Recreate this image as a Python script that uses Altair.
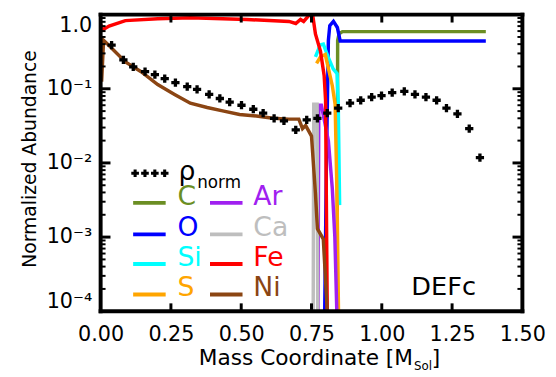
import altair as alt
import pandas as pd

FONT = "DejaVu Sans"

SPECIES = ["C", "O", "Si", "S", "Ar", "Ca", "Fe", "Ni"]
COLORS = ["#6b8e23", "#0000ff", "#00ffff", "#ffa500", "#a020f0", "#bebebe", "#ff0000", "#8b4513"]

C_M = [0.841, 0.843, 0.848, 0.860, 1.370]
C_A = [1e-4, 0.45, 0.55, 0.59, 0.59]
O_M = [0.797, 0.803, 0.810, 0.815, 0.828, 0.842, 0.852, 1.370]
O_A = [1e-4, 0.01, 0.45, 0.71, 0.81, 0.67, 0.44, 0.44]
SI_M = [0.764, 0.781, 0.792, 0.809, 0.827, 0.841, 0.845, 0.850]
SI_A = [0.27, 0.39, 0.40, 0.27, 0.186, 0.16, 0.068, 0.0027]
S_M = [0.768, 0.782, 0.799, 0.824, 0.834, 0.841, 0.846]
S_A = [0.22, 0.27, 0.29, 0.11, 0.062, 0.0032, 1e-4]
AR_M = [0.773, 0.776, 0.785, 0.810, 0.824, 0.833, 0.840]
AR_A = [1e-4, 0.06, 0.06, 0.02, 0.0045, 0.001, 1e-4]
CA_M = [0.756, 0.758, 0.770, 0.772]
CA_A = [1e-4, 0.062, 0.062, 1e-4]
FE_M = [0.0, 0.007, 0.03, 0.088, 0.203, 0.319, 0.52, 0.67, 0.694, 0.711, 0.722,
        0.740, 0.754, 0.764, 0.782, 0.795, 0.800, 0.806]
FE_A = [0.74, 0.62, 0.70, 0.83, 0.88, 0.91, 0.86, 0.81, 0.76, 0.86, 0.81,
        0.97, 1.0, 0.55, 0.32, 0.15, 0.07, 1e-4]
NI_M = [0.0035, 0.0105, 0.028, 0.088, 0.144, 0.203, 0.263, 0.319, 0.379, 0.438,
        0.494, 0.554, 0.613, 0.669, 0.705, 0.718, 0.729, 0.750, 0.764, 0.771,
        0.792, 0.806]
NI_A = [0.125, 0.45, 0.39, 0.23, 0.17, 0.114, 0.084, 0.064, 0.056, 0.050,
        0.045, 0.043, 0.040, 0.039, 0.039, 0.029, 0.032, 0.023, 0.0039, 0.0013,
        0.00094, 1e-4]
RHO_M = [0.039, 0.081, 0.116, 0.158, 0.193, 0.228, 0.266, 0.308, 0.343, 0.386,
         0.424, 0.459, 0.501, 0.543, 0.578, 0.617, 0.652, 0.694, 0.733, 0.771,
         0.806, 0.845, 0.887, 0.925, 0.964, 0.999, 1.037, 1.080, 1.118, 1.157,
         1.195, 1.230, 1.269, 1.311, 1.349]
RHO_A = [0.387, 0.245, 0.198, 0.170, 0.155, 0.137, 0.121, 0.107, 0.098, 0.084,
         0.074, 0.066, 0.060, 0.053, 0.047, 0.040, 0.037, 0.028, 0.038, 0.040,
         0.047, 0.055, 0.064, 0.070, 0.077, 0.081, 0.089, 0.092, 0.084, 0.077,
         0.070, 0.055, 0.046, 0.029, 0.0118]

X_TICKS = [0.0, 0.25, 0.5, 0.75, 1.0, 1.25, 1.5]
Y_TICKS = [1e-4, 1e-3, 1e-2, 1e-1, 1.0]

SERIES = {"C": (C_M, C_A), "O": (O_M, O_A), "Si": (SI_M, SI_A), "S": (S_M, S_A),
          "Ar": (AR_M, AR_A), "Ca": (CA_M, CA_A), "Fe": (FE_M, FE_A), "Ni": (NI_M, NI_A)}

W, H = 428, 301

xs = alt.Scale(domain=[0, 1.5], nice=False, zero=False)
ys = alt.Scale(type="log", domain=[1e-4, 1], nice=False)

X_AXIS = alt.Axis(values=X_TICKS, format=".2f", ticks=False, tickSize=0, domain=False,
                  grid=False, labelFont=FONT, labelFontSize=21, labelColor="black",
                  labelPadding=30, labelBaseline="alphabetic", labelFlush=False,
                  labelOverlap=False, title=None)
Y_AXIS = alt.Axis(values=Y_TICKS, ticks=False, tickSize=0, domain=False, grid=False,
                  labelFont=FONT, labelFontSize=21, labelColor="black", labelPadding=9,
                  labelOverlap=False, labelFlush=True,
                  labelExpr="datum.value >= 0.5 ? '1.0' : datum.value >= 0.05 ? '10⁻¹' : "
                            "datum.value >= 0.005 ? '10⁻²' : datum.value >= 0.0005 ? '10⁻³' : '10⁻⁴'",
                  title="Normalized Abundance", titleFont=FONT, titleFontSize=19,
                  titleFontWeight="normal", titleColor="black", titleX=-72, titleY=146,
                  titleAlign="center", titleBaseline="middle", titleAngle=-90)

def X():
    return alt.X("m:Q", scale=xs, axis=X_AXIS)

def Y():
    return alt.Y("a:Q", scale=ys, axis=Y_AXIS)

one = pd.DataFrame({"k": [0]})

layers = []
for name, color in zip(SPECIES, COLORS):
    mm, aa = SERIES[name]
    df = pd.DataFrame({"m": mm, "a": aa, "i": list(range(len(mm)))})
    layers.append(alt.Chart(df).mark_line(color=color, strokeWidth=3.5, clip=True)
                  .encode(x=X(), y=Y(), order=alt.Order("i:Q")))

rho_df = pd.DataFrame({"m": RHO_M, "a": RHO_A})
layers.append(alt.Chart(rho_df).mark_point(shape="cross", filled=True, size=70,
                                           color="black", opacity=1)
              .encode(x=X(), y=Y()))

# inward ticks
xt = pd.DataFrame({"m": X_TICKS[1:-1]})
layers.append(alt.Chart(xt).mark_rule(color="black", strokeWidth=3)
              .encode(x=X(), y=alt.value(H), y2=alt.value(H - 8)))
layers.append(alt.Chart(xt).mark_rule(color="black", strokeWidth=3)
              .encode(x=X(), y=alt.value(0), y2=alt.value(8)))
yt = pd.DataFrame({"a": Y_TICKS[1:-1]})
layers.append(alt.Chart(yt).mark_rule(color="black", strokeWidth=3)
              .encode(y=Y(), x=alt.value(0), x2=alt.value(10)))
layers.append(alt.Chart(yt).mark_rule(color="black", strokeWidth=3)
              .encode(y=Y(), x=alt.value(W), x2=alt.value(W - 10)))
minor = [k * 10.0 ** d for d in range(-4, 0) for k in range(2, 10)]
ym = pd.DataFrame({"a": minor})
layers.append(alt.Chart(ym).mark_rule(color="black", strokeWidth=2)
              .encode(y=Y(), x=alt.value(0), x2=alt.value(5)))
layers.append(alt.Chart(ym).mark_rule(color="black", strokeWidth=2)
              .encode(y=Y(), x=alt.value(W), x2=alt.value(W - 5)))

# frame
frame = [(0, 0, 0, H), (W, W, 0, H), (0, W, 0, 0), (0, W, H, H)]
for x1, x2, y1, y2 in frame:
    layers.append(alt.Chart(one).mark_rule(color="black", strokeWidth=4, strokeCap="square")
                  .encode(x=alt.value(x1), x2=alt.value(x2), y=alt.value(y1), y2=alt.value(y2)))

def txt(text, x, y, size, color="black", align="left"):
    return alt.Chart(one).mark_text(text=text, font=FONT, fontSize=size, color=color,
                                    align=align, baseline="alphabetic").encode(
        x=alt.value(x), y=alt.value(y))

# legend
for k in range(4):
    layers.append(alt.Chart(one).mark_point(shape="cross", filled=True, size=60,
                                            color="black", opacity=1)
                  .encode(x=alt.value(35 + 10 * k), y=alt.value(161)))
layers.append(txt("ρ", 79, 168, 27))
layers.append(txt("norm", 98, 176, 17))
row_base = [193, 225, 255, 286]
for idx, (name, color) in enumerate(zip(SPECIES, COLORS)):
    col, row = divmod(idx, 4)
    lx1 = 33 + 78 * col
    tx = 78 + 77 * col
    by = row_base[row]
    layers.append(alt.Chart(one).mark_rule(color=color, strokeWidth=4)
                  .encode(x=alt.value(lx1), x2=alt.value(lx1 + 33),
                          y=alt.value(by - 2), y2=alt.value(by - 2)))
    layers.append(txt(name, tx, by, 27, color))

layers.append(txt("DEFc", 381, 285, 26, align="right"))

# x title
layers.append(txt("Mass Coordinate [M", 317, 356, 22, align="right"))
layers.append(txt("Sol", 318, 361, 12))
layers.append(txt("]", 336, 356, 22))

chart = alt.layer(*layers).properties(
    width=W, height=H,
    autosize=alt.AutoSizeParams(type="none"),
    padding={"left": 94, "top": 4, "right": 26, "bottom": 64},
).configure_view(stroke=None).configure(background="white")

chart.save("out.html", embed_options={"renderer": "svg", "actions": False})
